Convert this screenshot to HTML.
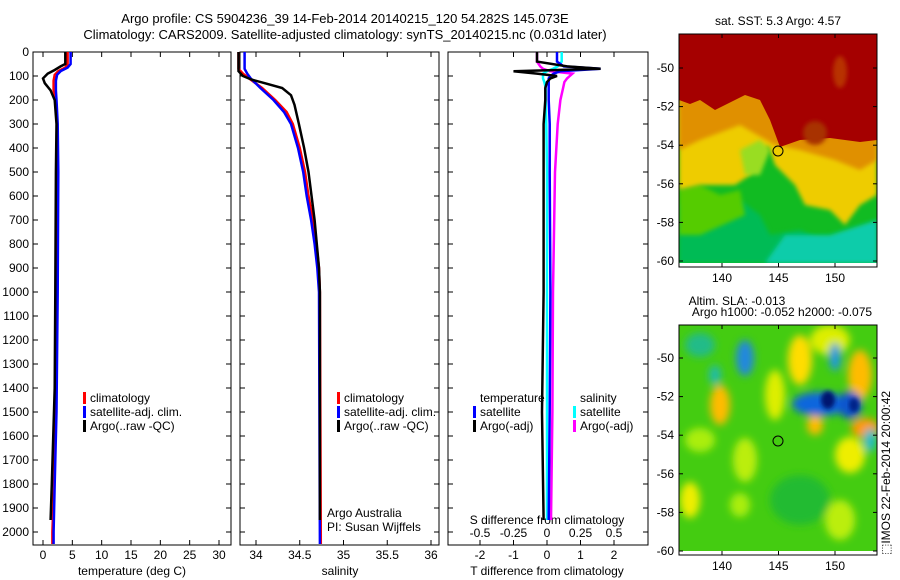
<!DOCTYPE html>
<html><head><meta charset="utf-8"><style>
body{margin:0;background:#fff}
svg{display:block;font-family:"Liberation Sans",sans-serif;font-size:12px}
</style></head><body>
<svg id="fig" width="900" height="580" xmlns="http://www.w3.org/2000/svg">
<defs>
<filter id="bl" x="-20%" y="-20%" width="140%" height="140%"><feGaussianBlur stdDeviation="4"/></filter>
<filter id="bl2" x="-20%" y="-20%" width="140%" height="140%"><feGaussianBlur stdDeviation="2"/></filter>
<clipPath id="c1"><rect x="679" y="34" width="198" height="229"/></clipPath>
<clipPath id="c2"><rect x="679" y="325" width="198" height="226"/></clipPath>
</defs>
<text x="345" y="23" text-anchor="middle" font-size="13">Argo profile: CS 5904236_39 14-Feb-2014 20140215_120 54.282S 145.073E</text>
<text x="345" y="39" text-anchor="middle" font-size="13">Climatology: CARS2009. Satellite-adjusted climatology: synTS_20140215.nc (0.031d later)</text>

<g id="maps">
<g clip-path="url(#c1)">
<rect x="679" y="34" width="198" height="229" fill="#11bb22"/>
<path d="M679,205 L700,195 L720,210 L740,200 L760,215 L770,235 L800,230 L830,245 L877,225 L877,263 L679,263Z" fill="#00bb55" filter="url(#bl2)"/>
<path d="M765,263 L785,235 L830,235 L877,220 L877,263Z" fill="#11ccaa" filter="url(#bl2)"/>
<path d="M679,190 L700,185 L720,195 L740,190 L745,215 L700,235 L679,235Z" fill="#55cc00" filter="url(#bl2)"/>
<path d="M679,100 L877,100 L877,195 L860,205 L845,225 L830,210 L805,205 L795,185 L775,165 L768,145 L750,175 L735,185 L700,185 L679,190Z" fill="#eecc00" filter="url(#bl2)"/>
<path d="M740,150 L760,140 L770,150 L760,175 L745,175Z" fill="#99dd22" filter="url(#bl2)"/>
<path d="M679,80 L877,80 L877,160 L860,170 L835,160 L800,150 L775,145 L740,125 L700,140 L679,150Z" fill="#e09000" filter="url(#bl2)"/>
<path d="M679,34 L877,34 L877,140 L860,142 L830,138 L800,140 L780,147 L770,120 L760,100 L745,95 L735,100 L715,110 L700,100 L690,104 L679,100Z" fill="#a50000"/>
<ellipse cx="815" cy="133" rx="12" ry="12" fill="#a83000" filter="url(#bl2)"/>
<ellipse cx="840" cy="72" rx="7" ry="16" fill="#b83000" filter="url(#bl2)"/>
</g>
<rect x="679" y="34" width="198" height="233" fill="none" stroke="#000"/>
<circle cx="778" cy="151" r="5" fill="none" stroke="#000"/>
<text x="778" y="25" text-anchor="middle">sat. SST: 5.3 Argo: 4.57</text>

<g clip-path="url(#c2)">
<rect x="679" y="325" width="198" height="226" fill="#44cc11"/>
<g filter="url(#bl)">
<ellipse cx="720" cy="405" rx="10" ry="20" fill="#ffbb00"/>
<ellipse cx="775" cy="395" rx="10" ry="25" fill="#ddee00"/>
<ellipse cx="800" cy="360" rx="12" ry="25" fill="#ffdd00"/>
<ellipse cx="830" cy="340" rx="20" ry="15" fill="#ddee00"/>
<ellipse cx="860" cy="375" rx="12" ry="25" fill="#ffbb00"/>
<ellipse cx="865" cy="428" rx="14" ry="10" fill="#ff9900"/>
<ellipse cx="850" cy="455" rx="15" ry="18" fill="#eeee00"/>
<ellipse cx="815" cy="425" rx="8" ry="10" fill="#ffbb00"/>
<ellipse cx="745" cy="460" rx="12" ry="22" fill="#bbee11"/>
<ellipse cx="690" cy="500" rx="10" ry="18" fill="#eeee00"/>
<ellipse cx="740" cy="505" rx="10" ry="12" fill="#aaee11"/>
<ellipse cx="700" cy="440" rx="15" ry="12" fill="#aaee11"/>
<ellipse cx="840" cy="520" rx="15" ry="20" fill="#bbee11"/>
<ellipse cx="700" cy="345" rx="15" ry="12" fill="#22bb88"/>
<ellipse cx="745" cy="358" rx="9" ry="18" fill="#2288dd"/>
<ellipse cx="715" cy="375" rx="6" ry="10" fill="#22bbaa"/>
<ellipse cx="835" cy="357" rx="6" ry="14" fill="#2299dd"/>
<ellipse cx="820" cy="404" rx="28" ry="12" fill="#1166dd"/>
<ellipse cx="850" cy="405" rx="12" ry="14" fill="#1155cc"/>
<ellipse cx="870" cy="440" rx="6" ry="12" fill="#22bbcc"/>
<ellipse cx="800" cy="500" rx="30" ry="25" fill="#22bb33"/>
</g>
<ellipse cx="828" cy="400" rx="7" ry="9" fill="#001870" filter="url(#bl2)"/>
<ellipse cx="854" cy="405" rx="5" ry="7" fill="#002288" filter="url(#bl2)"/>
<rect x="679" y="551" width="198" height="4" fill="#fff"/>
</g>
<rect x="679" y="325" width="198" height="230" fill="none" stroke="#000"/>
<circle cx="778" cy="441" r="5" fill="none" stroke="#000"/>
<text x="737" y="305" text-anchor="middle">Altim. SLA: -0.013</text>
<text x="782" y="316" text-anchor="middle">Argo h1000: -0.052 h2000: -0.075</text>
<text transform="translate(890,555) rotate(-90)">⬚IMOS 22-Feb-2014 20:00:42</text>
</g>
<g id="dyn"></g>
</svg>
<script>
// ---- data ----
const depthTicks=[0,100,200,300,400,500,600,700,800,900,1000,1100,1200,1300,1400,1500,1600,1700,1800,1900,2000];
const tempTicks=[0,5,10,15,20,25,30];
const salTicks=[34,34.5,35,35.5,36];
const tdiffTicks=[-2,-1,0,1,2];
const sdiffTicks=[-0.5,-0.25,0,0.25,0.5];
const latTicksTop=[-50,-52,-54,-56,-58,-60];
const latTicksBot=[-50,-52,-54,-56,-58,-60];
const lonTicks=[140,145,150];
const dClim=[0,50,65,80,95,120,160,200,300,500,1000,1500,1800,2000,2050];
const tClim=[4.2,4.2,3.8,2.6,2.0,1.8,1.8,2.2,2.4,2.4,2.4,2.2,1.9,1.6,1.6];
const tSat=[4.7,4.7,4.2,3.0,2.4,2.2,2.2,2.3,2.5,2.6,2.5,2.3,2.0,1.8,1.8];
const dArgo=[0,50,60,75,90,110,130,160,200,300,500,1000,1400,1800,1950];
const tArgo=[3.8,3.8,3.0,2.0,0.8,0.0,0.3,1.3,2.0,2.3,2.2,2.1,2.0,1.5,1.3];
const dSal=[0,70,90,110,150,200,250,300,400,500,600,700,800,900,1000,2050];
const sClim=[33.8,33.8,33.85,33.92,34.07,34.22,34.35,34.42,34.5,34.56,34.6,34.65,34.69,34.72,34.73,34.74];
const sSat=[33.87,33.87,33.9,33.94,34.05,34.2,34.32,34.4,34.48,34.54,34.58,34.63,34.67,34.7,34.72,34.73];
const dSalA=[0,80,100,115,130,150,180,220,300,400,500,700,900,1000,1950];
const sArgo=[33.8,33.8,33.85,33.95,34.1,34.3,34.4,34.44,34.49,34.55,34.6,34.67,34.72,34.73,34.73];
const dDiff=[0,40,60,70,80,90,100,110,125,150,200,300,500,1000,1500,1950];
const tdArgo=[-0.3,-0.3,0.6,1.6,-1.0,-0.3,0.3,0.1,0.0,-0.05,-0.05,-0.1,-0.1,-0.1,-0.15,-0.1];
const tdSat=[0.3,0.3,0.5,1.6,0.4,0.2,0.1,0.05,0.05,0.05,0.05,0.08,0.08,0.1,0.08,0.05];
const sdArgo=[-0.075,-0.075,-0.05,-0.03,0.02,0.19,0.17,0.15,0.13,0.12,0.1,0.08,0.06,0.045,0.04,0.03];
const sdSat=[0.11,0.11,0.08,0.045,0.0,-0.03,-0.03,-0.03,-0.02,-0.01,-0.01,-0.005,0,0,0,0];
// ---- axes ----
const yD=d=>52+d*0.24;
const xT=t=>43+t*5.867;
const xS=s=>256+(s-34)*87.5;
const xTd=t=>547+t*33.5;
const xSd=s=>547+s*134;
const yLatTop=l=>68+(-50-l)*19.3;
const yLatBot=l=>358+(-50-l)*19.3;
const xLon=l=>722+(l-140)*11.3;
const NS='http://www.w3.org/2000/svg';
const g=document.getElementById('dyn');
function el(tag,attrs,txt){const e=document.createElementNS(NS,tag);for(const k in attrs)e.setAttribute(k,attrs[k]);if(txt!==undefined)e.textContent=txt;g.appendChild(e);return e;}
function stepPath(ds,vs,fx){let p='';for(let i=0;i<ds.length;i++){p+=(i?'L':'M')+fx(vs[i]).toFixed(1)+','+yD(ds[i]).toFixed(1);}return p;}
const panels=[[33,231],[240,439],[448,648]];
panels.forEach((p,i)=>{
 const r=el('rect',{x:p[0],y:52,width:p[1]-p[0],height:493,fill:'none',stroke:'#000'});
 
 
 depthTicks.forEach(d=>{
  const t1=el('line',{x1:p[0],x2:p[0]+5,y1:yD(d),y2:yD(d),stroke:'#000'});
  
  
  const t2=el('line',{x1:p[1]-5,x2:p[1],y1:yD(d),y2:yD(d),stroke:'#000'});
  
  
 });
});
depthTicks.forEach(d=>{
 const t=el('text',{x:29,y:yD(d)+4,'text-anchor':'end'},String(d));
 
 
});
function xAxis(ticks,fx){
 ticks.forEach(v=>{
  const x=fx(v);
  const a=el('line',{x1:x,x2:x,y1:545,y2:540,stroke:'#000'});
  
  
  const b=el('line',{x1:x,x2:x,y1:52,y2:57,stroke:'#000'});
  
  
  const t=el('text',{x:x,y:559,'text-anchor':'middle'},String(v));
  
  
 });
}
xAxis(tempTicks,xT);
xAxis(salTicks,xS);
xAxis(tdiffTicks,xTd);
sdiffTicks.forEach(v=>{
 const t=el('text',{x:xSd(v),y:537,'text-anchor':'middle'},String(v));
 
 
});
[['temperature (deg C)',132,'temp-axis-title'],['salinity',340,'salinity-axis-title'],['T difference from climatology',547,'t-diff-axis-title']].forEach(a=>{
 const t=el('text',{x:a[1],y:575,'text-anchor':'middle'},a[0]);
 
 
});
const st=el('text',{x:547,y:524,'text-anchor':'middle'},'S difference from climatology');


function line(ds,vs,fx,col,name){
 const l=el('path',{d:stepPath(ds,vs,fx),fill:'none',stroke:col,'stroke-width':2.5});
 
 
}
line(dClim,tClim,xT,'#f00','temp-climatology-line');
line(dClim,tSat,xT,'#00f','temp-satellite-line');
line(dArgo,tArgo,xT,'#000','temp-argo-line');
line(dSal,sClim,xS,'#f00','salinity-climatology-line');
line(dSal,sSat,xS,'#00f','salinity-satellite-line');
line(dSalA,sArgo,xS,'#000','salinity-argo-line');
line(dDiff,sdArgo,xSd,'#f0f','s-diff-argo-line');
line(dDiff,sdSat,xSd,'#0ff','s-diff-satellite-line');
line(dDiff,tdSat,xTd,'#00f','t-diff-satellite-line');
line(dDiff,tdArgo,xTd,'#000','t-diff-argo-line');
function legend(x,y,items,nm){
 items.forEach((it,i)=>{
  if(it[1]){const m=el('rect',{x:x,y:y+i*14-10,width:3,height:12,fill:it[1]});
  
  }
  const t=el('text',{x:x+7,y:y+i*14},it[0]);
  
  
 });
}
legend(83,402,[['climatology','#f00'],['satellite-adj. clim.','#00f'],['Argo(..raw -QC)','#000']],'temp-legend');
legend(337,402,[['climatology','#f00'],['satellite-adj. clim.','#00f'],['Argo(..raw -QC)','#000']],'salinity-legend');
legend(473,402,[['temperature',null],['satellite','#00f'],['Argo(-adj)','#000']],'t-diff-legend');
legend(573,402,[['salinity',null],['satellite','#0ff'],['Argo(-adj)','#f0f']],'s-diff-legend');
const a1=el('text',{x:327,y:517},'Argo Australia');


const a2=el('text',{x:327,y:531},'PI: Susan Wijffels');


function mapAxes(yf,ticks,y0,y1){
 ticks.forEach(l=>{
  const y=yf(l);
  const a=el('line',{x1:679,x2:683,y1:y,y2:y,stroke:'#000'});
  
  
  const b=el('line',{x1:873,x2:877,y1:y,y2:y,stroke:'#000'});
  
  
  const t=el('text',{x:674,y:y+4,'text-anchor':'end'},String(l));
  
  
 });
 lonTicks.forEach(l=>{
  const x=xLon(l);
  const a=el('line',{x1:x,x2:x,y1:y0,y2:y0-4,stroke:'#000'});
  
  
  const b=el('line',{x1:x,x2:x,y1:y1,y2:y1+4,stroke:'#000'});
  
  
  const t=el('text',{x:x,y:y0+15,'text-anchor':'middle'},String(l));
  
  
 });
}
mapAxes(yLatTop,latTicksTop,267,34);
mapAxes(yLatBot,latTicksBot,555,325);
</script>
</body></html>
